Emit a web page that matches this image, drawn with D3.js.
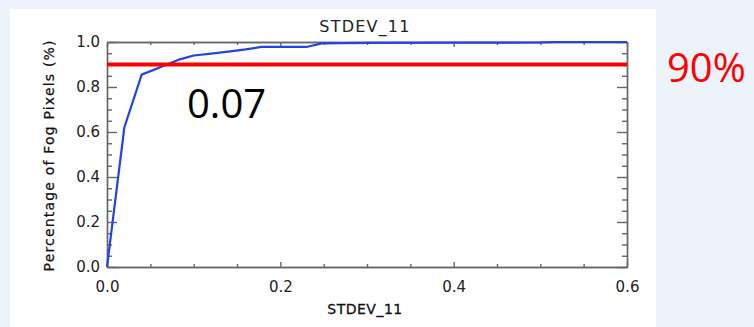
<!DOCTYPE html>
<html>
<head>
<meta charset="utf-8">
<script src="https://cdn.jsdelivr.net/npm/d3@7"></script>
<style>
  html, body { margin: 0; padding: 0; background: #edf3fb; }
  svg { display: block; }
  .axis text { font-family: "DejaVu Sans", sans-serif; font-size: 15px; fill: #222; }
  .axis path, .axis line { stroke: #666; stroke-width: 1.4; }
</style>
</head>
<body>
<svg id="chart" width="754" height="327"></svg>
<script>
// Cumulative share of fog pixels versus STDEV_11 threshold
const stdevValues = [0, 0.02, 0.04, 0.06, 0.084, 0.10, 0.12, 0.14, 0.16, 0.178, 0.20, 0.23, 0.248, 0.30, 0.40, 0.50, 0.52, 0.60];
const fogFraction = [0, 0.62, 0.855, 0.886, 0.923, 0.940, 0.948, 0.957, 0.967, 0.978, 0.978, 0.978, 0.994, 0.996, 0.997, 0.998, 1.0, 1.0];

const xMajorTicks = [0, 0.2, 0.4, 0.6];
const xMinorTicks = [0.05, 0.1, 0.15, 0.25, 0.3, 0.35, 0.45, 0.5, 0.55];
const yMajorTicks = [0, 0.2, 0.4, 0.6, 0.8, 1.0];
const yMinorTicks = [0.05, 0.1, 0.15, 0.25, 0.3, 0.35, 0.45, 0.5, 0.55, 0.65, 0.7, 0.75, 0.85, 0.9, 0.95];

const thresholdLevel = 0.9;
const thresholdLabel = "90%";
const crossingLabel = "0.07";
const chartTitle = "STDEV_11";
const xTitle = "STDEV_11";
const yTitle = "Percentage of Fog Pixels (%)";

const svg = d3.select("#chart");

// page backdrop and white slide panel
svg.append("rect").attr("x", 0).attr("y", 0).attr("width", 754).attr("height", 327).attr("fill", "#edf3fb");
svg.append("rect").attr("x", 10).attr("y", 9).attr("width", 646).attr("height", 320).attr("fill", "#ffffff");

const x = d3.scaleLinear().domain([0, 0.6]).range([107, 627]);
const y = d3.scaleLinear().domain([0, 1]).range([267, 42]);
const fmt = d3.format(".1f");

// bottom axis with labels
svg.append("g").attr("class", "axis").attr("transform", `translate(0,${y(0)})`)
  .call(d3.axisBottom(x).tickValues(xMajorTicks).tickSizeInner(-5).tickSizeOuter(0).tickPadding(14).tickFormat(fmt));
svg.append("g").attr("class", "axis").attr("transform", `translate(0,${y(0)})`)
  .call(d3.axisBottom(x).tickValues(xMinorTicks).tickSizeInner(-3).tickSizeOuter(0).tickFormat(""));
// top axis
svg.append("g").attr("class", "axis").attr("transform", `translate(0,${y(1)})`)
  .call(d3.axisTop(x).tickValues(xMajorTicks).tickSizeInner(-5).tickSizeOuter(0).tickFormat(""));
svg.append("g").attr("class", "axis").attr("transform", `translate(0,${y(1)})`)
  .call(d3.axisTop(x).tickValues(xMinorTicks).tickSizeInner(-3).tickSizeOuter(0).tickFormat(""));
// left axis with labels
svg.append("g").attr("class", "axis").attr("transform", `translate(${x(0)},0)`)
  .call(d3.axisLeft(y).tickValues(yMajorTicks).tickSizeInner(-10).tickSizeOuter(0).tickPadding(7).tickFormat(fmt));
svg.append("g").attr("class", "axis").attr("transform", `translate(${x(0)},0)`)
  .call(d3.axisLeft(y).tickValues(yMinorTicks).tickSizeInner(-5).tickSizeOuter(0).tickFormat(""));
// right axis
svg.append("g").attr("class", "axis").attr("transform", `translate(${x(0.6)},0)`)
  .call(d3.axisRight(y).tickValues(yMajorTicks).tickSizeInner(-10).tickSizeOuter(0).tickFormat(""));
svg.append("g").attr("class", "axis").attr("transform", `translate(${x(0.6)},0)`)
  .call(d3.axisRight(y).tickValues(yMinorTicks).tickSizeInner(-5).tickSizeOuter(0).tickFormat(""));

// cumulative curve
const pts = stdevValues.map((v, i) => [v, fogFraction[i]]);
svg.append("path")
  .datum(pts)
  .attr("fill", "none")
  .attr("stroke", "#2244e6")
  .attr("stroke-width", 2.2)
  .attr("stroke-linejoin", "round")
  .attr("d", d3.line().x(d => x(d[0])).y(d => y(d[1])));

// 90% threshold line
svg.append("line")
  .attr("x1", x(0)).attr("x2", x(0.6))
  .attr("y1", y(thresholdLevel)).attr("y2", y(thresholdLevel))
  .attr("stroke", "#ff0000").attr("stroke-width", 4);

// titles
svg.append("text").attr("x", 365).attr("y", 32).attr("text-anchor", "middle")
  .attr("font-family", "DejaVu Sans, sans-serif").attr("font-size", 16).attr("letter-spacing", 1.2)
  .attr("fill", "#222").text(chartTitle);
svg.append("text").attr("x", 365).attr("y", 314).attr("text-anchor", "middle")
  .attr("font-family", "DejaVu Sans, sans-serif").attr("font-size", 14).attr("letter-spacing", 0.5)
  .attr("fill", "#111").attr("stroke", "#111").attr("stroke-width", 0.3).text(xTitle);
svg.append("text").attr("transform", "translate(54,156) rotate(-90)").attr("text-anchor", "middle")
  .attr("font-family", "DejaVu Sans, sans-serif").attr("font-size", 14)
  .attr("textLength", 231).attr("lengthAdjust", "spacing")
  .attr("fill", "#111").attr("stroke", "#111").attr("stroke-width", 0.25).text(yTitle);

// annotations
svg.append("text").attr("x", 187).attr("y", 118)
  .attr("font-family", "Open Sans, sans-serif").attr("font-size", 40)
  .attr("fill", "#000").text(crossingLabel);
svg.append("text").attr("x", 667).attr("y", 82)
  .attr("font-family", "Open Sans, sans-serif").attr("font-size", 40)
  .attr("fill", "#ff0000").text(thresholdLabel);
</script>
</body>
</html>
